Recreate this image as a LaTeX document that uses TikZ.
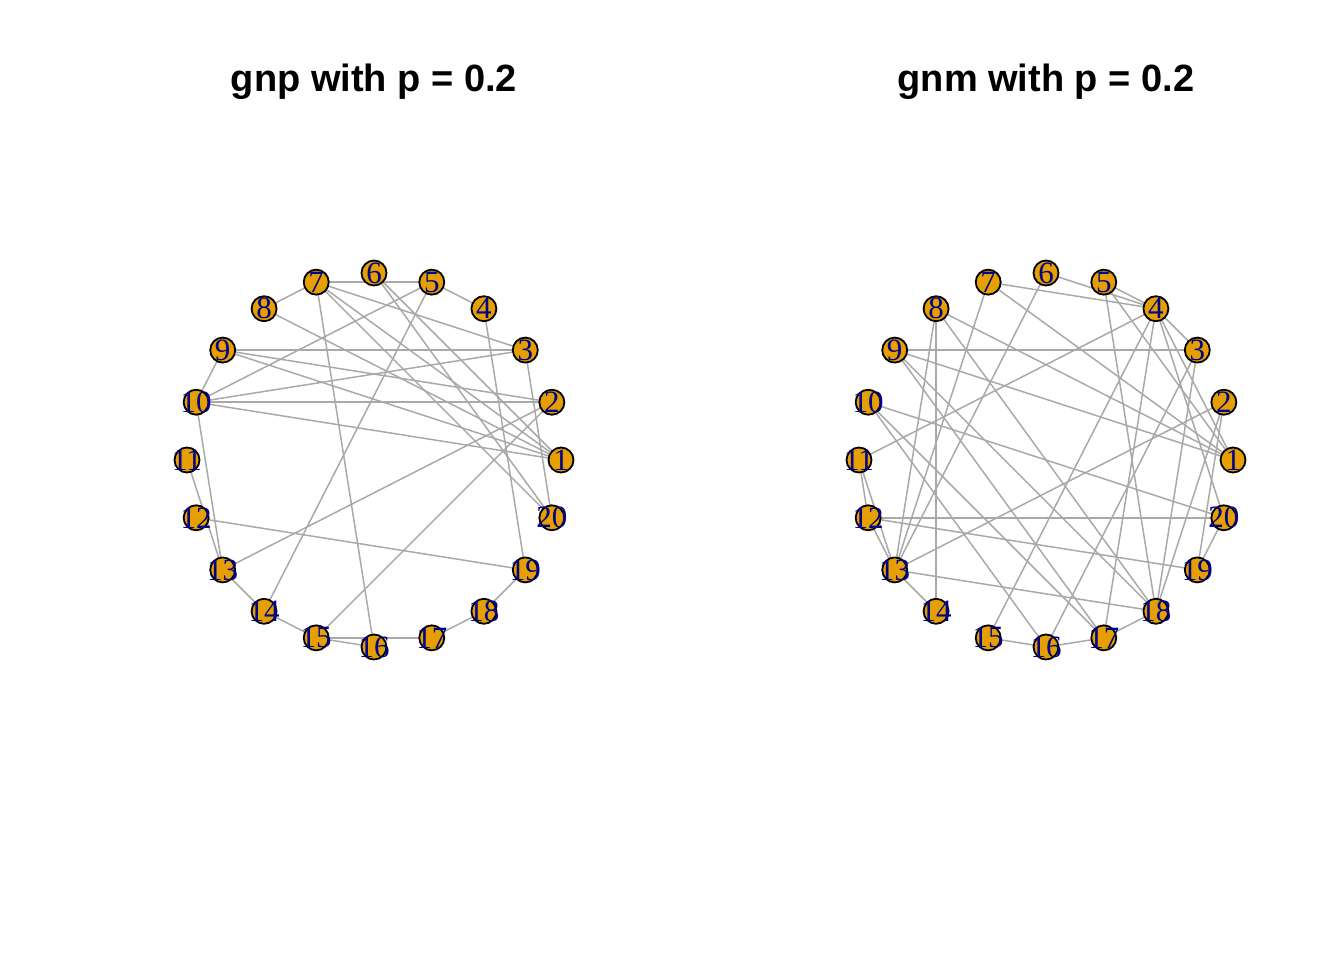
\documentclass[tikz,border=0pt]{standalone}
\usepackage{fontspec}
\setmainfont{Liberation Serif}
\newfontfamily\titlefont{Liberation Sans}
\usetikzlibrary{backgrounds}
\definecolor{vorange}{HTML}{E69F00}
\definecolor{vlabel}{HTML}{00008B}
\definecolor{egray}{HTML}{A9A9A9}
\begin{document}
\begin{tikzpicture}[x=1pt,y=1pt,
  vtx/.style={circle,draw=black,fill=vorange,line width=1.8pt,minimum size=25pt,inner sep=0pt},
  lbl/.style={inner sep=0pt,text=vlabel,font=\fontsize{31}{31}\selectfont},
  edge/.style={draw=egray,line width=1.5pt},
  ttl/.style={font=\titlefont\bfseries\fontsize{38}{38}\selectfont}]
\useasboundingbox (0,0) rectangle (1344,-960);
\node[ttl] (t1) at (374,-82) {gnp with p = 0.2};
\node[ttl] (t2) at (1046,-82) {gnm with p = 0.2};
\foreach \i in {1,...,20} {
  \pgfmathsetmacro\ang{(\i-1)*18}
  \node[vtx] (L\i) at ({374+187*cos(\ang)},{-460+187*sin(\ang)}) {};
  \node[lbl] (Lt\i) at (L\i) {\i};
  \node[vtx] (R\i) at ({1046+187*cos(\ang)},{-460+187*sin(\ang)}) {};
  \node[lbl] (Rt\i) at (R\i) {\i};
}
\begin{scope}[on background layer]
\foreach \a/\b in {5/7,4/5,7/8,7/3,7/1,7/20,7/16,6/1,6/20,9/3,9/2,9/1,9/10,10/2,10/1,10/3,10/5,10/13,11/13,12/19,13/14,14/15,15/16,15/17,17/18,18/19,13/2,15/2,14/5,3/20,4/19,8/1}
  \draw[edge] (L\a.center) -- (L\b.center);
\foreach \a/\b in {4/5,4/6,4/7,4/3,4/11,4/1,4/17,4/15,4/20,5/1,5/18,7/1,7/13,6/13,8/13,8/1,8/14,8/18,9/3,9/1,9/17,9/18,10/20,10/17,10/16,11/12,11/13,12/20,12/19,12/13,13/14,13/18,13/2,15/16,16/17,17/18,19/20,19/2,3/16,3/18,2/18}
  \draw[edge] (R\a.center) -- (R\b.center);
\end{scope}
\end{tikzpicture}
\end{document}
